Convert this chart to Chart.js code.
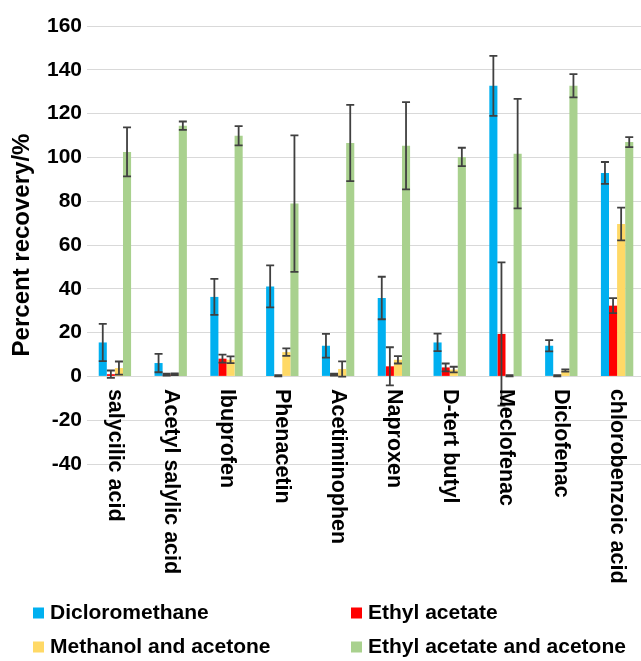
<!DOCTYPE html>
<html>
<head>
<meta charset="utf-8">
<script src="https://cdn.jsdelivr.net/npm/chart.js@4/dist/chart.umd.min.js"></script>
<style>
  html, body { margin: 0; padding: 0; background: #fff; overflow: hidden; }
  #wrap { position: relative; width: 645px; height: 661px; }
</style>
</head>
<body>
<div id="wrap"><canvas id="chart"></canvas></div>
<script>
// Compounds on the category axis
const categories = [
  'salycilic acid', 'Acetyl salylic acid', 'Ibuprofen', 'Phenacetin', 'Acetiminophen',
  'Naproxen', 'D-tert butyl', 'Meclofenac', 'Diclofenac', 'chlorobenzoic acid'
];

// Extraction solvents (series names)
const seriesNames = ['Dicloromethane', 'Ethyl acetate', 'Methanol and acetone', 'Ethyl acetate and acetone'];

// Mean percent recovery per solvent
const dichloromethane      = [15.5, 6.1, 36.3, 41.1, 14.0, 35.8, 15.5, 132.7, 14.0, 92.9];
const ethylAcetate         = [1.0, 0.8, 8.1, 0.3, 0.8, 4.6, 4.1, 19.4, 0.3, 32.3];
const methanolAcetone      = [3.8, 1.0, 7.6, 11.1, 3.4, 7.6, 3.1, 0.3, 2.7, 69.6];
const ethylAcetateAcetone  = [102.5, 114.5, 109.9, 78.9, 106.6, 105.3, 100.2, 101.7, 132.7, 107.0];

// Standard deviations (error bar half-lengths)
const dichloromethaneErr     = [8.5, 4.2, 8.2, 9.6, 5.4, 9.7, 4.0, 13.7, 2.6, 5.0];
const ethylAcetateErr        = [1.7, 0.4, 1.8, 0.3, 0.4, 8.7, 1.8, 32.7, 0.3, 3.4];
const methanolAcetoneErr     = [3.0, 0.4, 1.5, 1.7, 3.5, 1.7, 1.3, 0.3, 0.5, 7.5];
const ethylAcetateAcetoneErr = [11.2, 1.9, 4.4, 31.2, 17.4, 19.9, 4.2, 25.0, 5.3, 2.3];

// Value axis range
const yMin = -40;
const yMax = 160;
const yStep = 20;

const seriesColors = ['#00B0F0', '#FF0000', '#FFD966', '#A9D18E'];
const FONT = '"Liberation Sans", Arial, Helvetica, sans-serif';

// Vertical error bars with caps, centred on each bar
const errorBarPlugin = {
  id: 'errorBars',
  afterDatasetsDraw(chart) {
    const { ctx } = chart;
    const y = chart.scales.y;
    ctx.save();
    ctx.strokeStyle = '#404040';
    ctx.lineWidth = 1.8;
    chart.data.datasets.forEach((ds, i) => {
      const meta = chart.getDatasetMeta(i);
      meta.data.forEach((bar, j) => {
        const v = ds.data[j];
        const e = ds.errors[j];
        const top = y.getPixelForValue(v + e);
        const bot = y.getPixelForValue(v - e);
        const cap = 4;
        ctx.beginPath();
        ctx.moveTo(bar.x, top); ctx.lineTo(bar.x, bot);
        ctx.moveTo(bar.x - cap, top); ctx.lineTo(bar.x + cap, top);
        ctx.moveTo(bar.x - cap, bot); ctx.lineTo(bar.x + cap, bot);
        ctx.stroke();
      });
    });
    ctx.restore();
  }
};

// Category names written downward, starting just under the zero line
const categoryLabelPlugin = {
  id: 'categoryLabels',
  afterDraw(chart) {
    const { ctx } = chart;
    const x = chart.scales.x;
    const y0 = chart.scales.y.getPixelForValue(0) + 12.5;
    ctx.save();
    ctx.fillStyle = '#000';
    ctx.font = 'bold 21.5px ' + FONT;
    ctx.textAlign = 'left';
    ctx.textBaseline = 'middle';
    chart.data.labels.forEach((lab, i) => {
      const px = x.getPixelForValue(i);
      ctx.save();
      ctx.translate(px, y0);
      ctx.rotate(Math.PI / 2);
      ctx.fillText(lab, 0, 0);
      ctx.restore();
    });
    ctx.restore();
  }
};

// Two-column legend below the plot
const gridLegendPlugin = {
  id: 'gridLegend',
  afterDraw(chart) {
    const { ctx } = chart;
    const cols = [33, 351];
    const rows = [613, 647];
    const box = 11;
    ctx.save();
    ctx.font = 'bold 21px ' + FONT;
    ctx.textAlign = 'left';
    ctx.textBaseline = 'middle';
    chart.data.datasets.forEach((ds, i) => {
      const cx = cols[i % 2];
      const cy = rows[Math.floor(i / 2)];
      ctx.fillStyle = ds.backgroundColor;
      ctx.fillRect(cx, cy - box / 2, box, box);
      ctx.fillStyle = '#000';
      ctx.fillText(ds.label, cx + 17, cy);
    });
    ctx.restore();
  }
};

const valueSets = [dichloromethane, ethylAcetate, methanolAcetone, ethylAcetateAcetone];
const errorSets = [dichloromethaneErr, ethylAcetateErr, methanolAcetoneErr, ethylAcetateAcetoneErr];

new Chart(document.getElementById('chart'), {
  type: 'bar',
  data: {
    labels: categories,
    datasets: seriesNames.map((name, i) => ({
      label: name,
      data: valueSets[i],
      errors: errorSets[i],
      backgroundColor: seriesColors[i],
      borderWidth: 0,
      categoryPercentage: 0.58,
      barPercentage: 1.0
    }))
  },
  options: {
    responsive: true,
    maintainAspectRatio: false,
    animation: false,
    layout: { padding: { top: 26, right: 0, bottom: 0, left: 0 } },
    plugins: {
      legend: { display: false },
      tooltip: { enabled: false }
    },
    scales: {
      x: {
        grid: { display: false },
        border: { display: false },
        ticks: { display: false },
        afterFit(scale) { scale.height = 197; }
      },
      y: {
        min: yMin,
        max: yMax,
        ticks: {
          stepSize: yStep,
          color: '#000',
          padding: 5,
          font: { family: FONT, size: 21, weight: 'bold' }
        },
        grid: { color: '#d9d9d9', lineWidth: 1, drawTicks: false },
        border: { display: false },
        title: {
          display: true,
          text: 'Percent recovery/%',
          color: '#000',
          padding: { top: 8, bottom: 0 },
          font: { family: FONT, size: 24, weight: 'bold' }
        },
        afterFit(scale) { scale.width = 87; }
      }
    }
  },
  plugins: [errorBarPlugin, categoryLabelPlugin, gridLegendPlugin]
});
</script>
</body>
</html>
